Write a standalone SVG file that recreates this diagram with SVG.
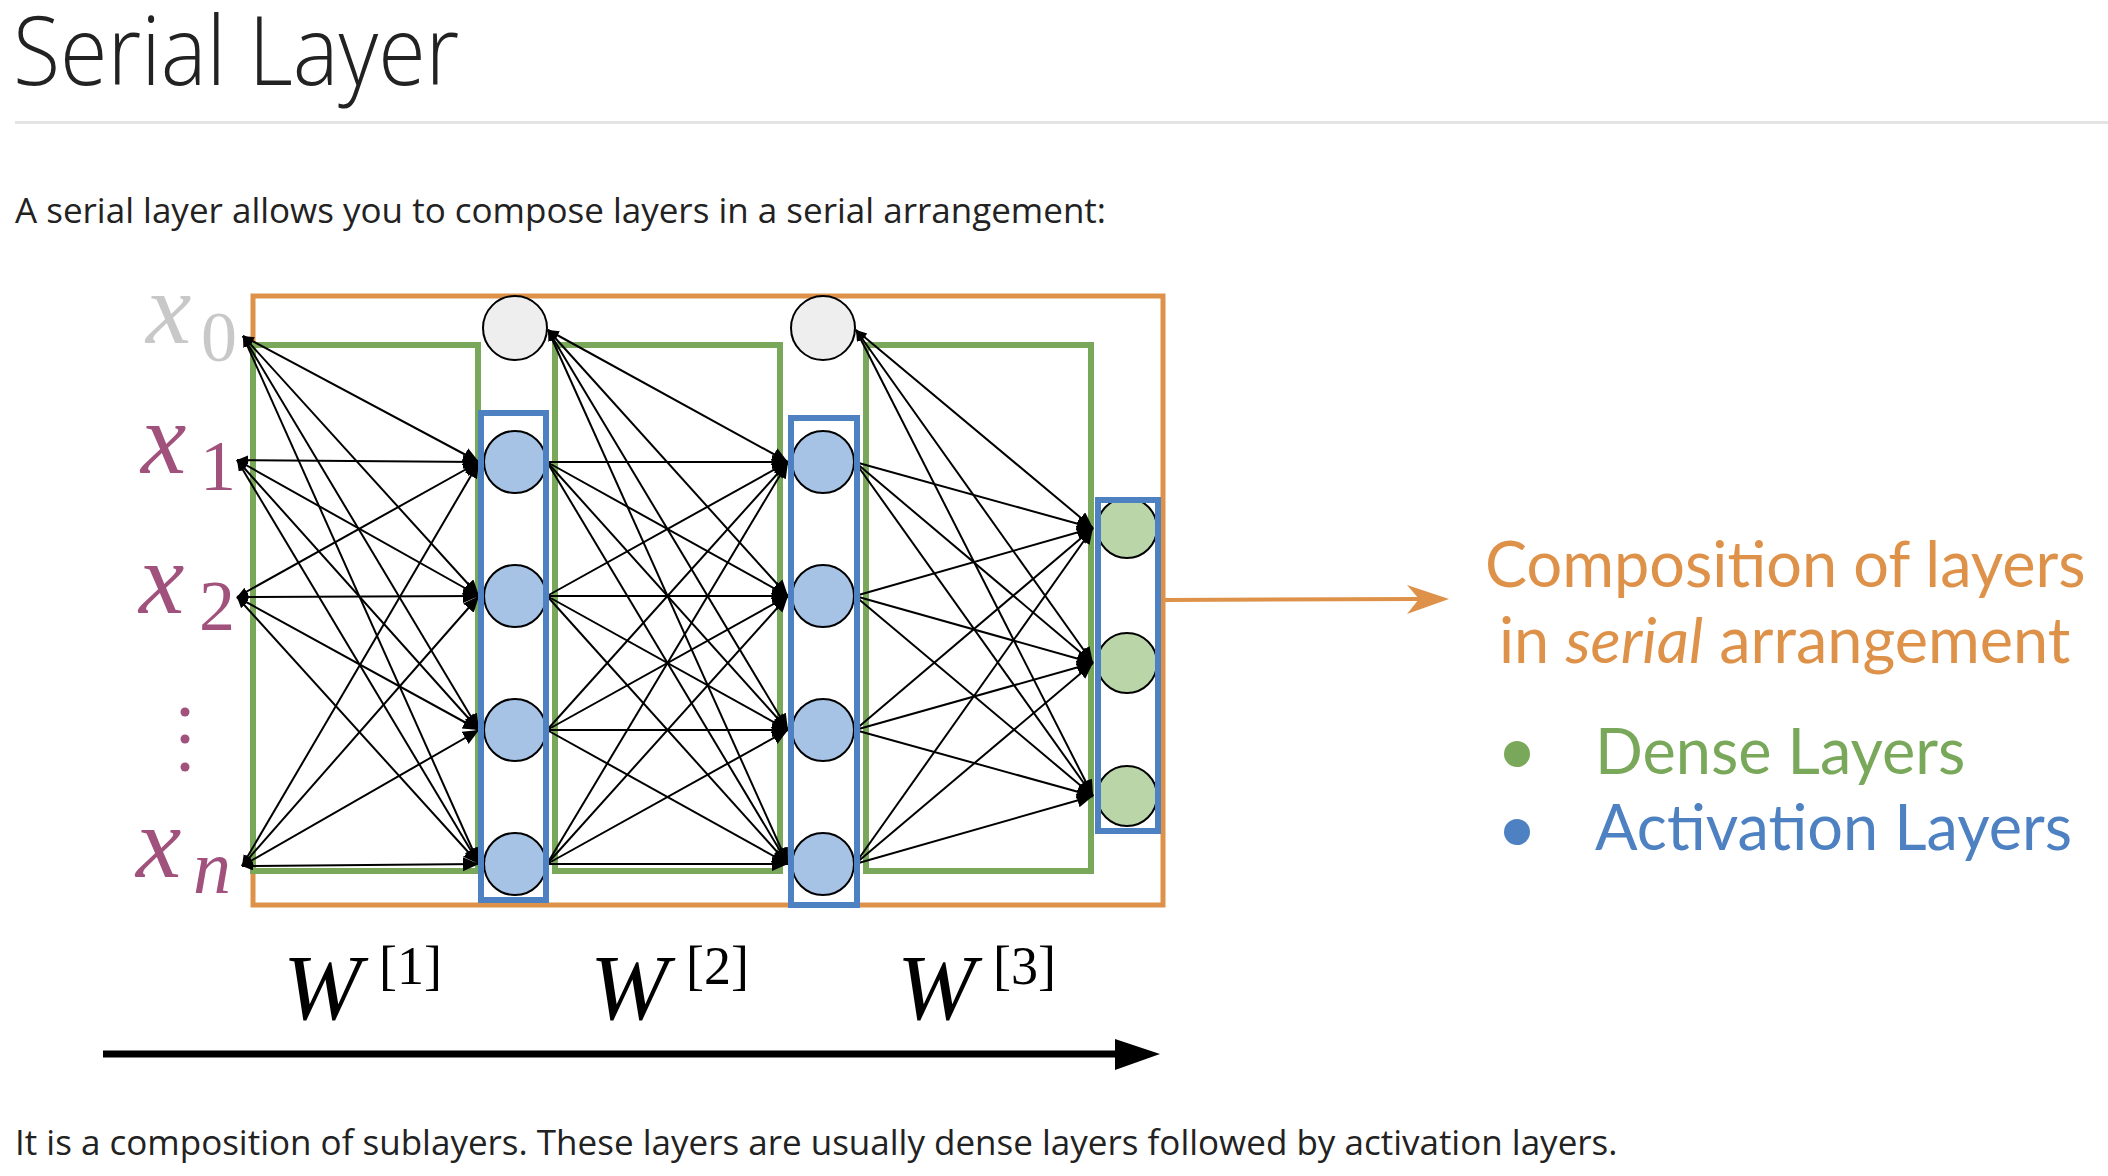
<svg xmlns="http://www.w3.org/2000/svg" width="2108" height="1176" viewBox="0 0 2108 1176">
<style>
.body{font-family:"Open Sans","Liberation Sans",sans-serif;fill:#222}
.lato{font-family:Lato,"Open Sans",sans-serif;font-size:63px}
.math{font-family:"Liberation Serif","DejaVu Serif",serif}
.xl{fill:#A0527D}
.e{stroke:#000;stroke-width:2;fill:none}
.e1{marker-end:url(#ah)}
.eb{marker-end:url(#ah);marker-start:url(#st)}
.dense{fill:none;stroke:#79A85A;stroke-width:6}
.act{fill:none;stroke:#4E81C1;stroke-width:6}
.nb{fill:#A6C3E6;stroke:#000;stroke-width:2}
.ng{fill:#BAD5A8;stroke:#000;stroke-width:2}
.nw{fill:#EEEEEE;stroke:#000;stroke-width:2}
</style>
<defs>
<marker id="ah" markerUnits="userSpaceOnUse" markerWidth="16" markerHeight="16" refX="16" refY="7" orient="auto"><path d="M0,0 L16,7 L0,14 z" fill="#000"/></marker>
<marker id="st" markerUnits="userSpaceOnUse" markerWidth="12" markerHeight="10" refX="11" refY="4.5" orient="auto-start-reverse"><path d="M0,0 L11,4.5 L0,9 z" fill="#000"/></marker>
</defs>
<rect width="2108" height="1176" fill="#fff"/>

<text class="body" transform="translate(13,85) scale(0.9,1)" font-size="96" font-weight="300">Serial Layer</text>
<rect x="15" y="121" width="2093" height="3" fill="#E4E4E4"/>
<text class="body" x="15" y="223" font-size="35">A serial layer allows you to compose layers in a serial arrangement:</text>

<g id="serial-box"><rect x="253" y="296" width="910" height="609" fill="none" stroke="#DE9249" stroke-width="5"/></g>
<g id="dense-1"><rect x="253" y="345" width="225" height="526" class="dense"/></g>
<g id="dense-2"><rect x="555" y="345" width="225" height="526" class="dense"/></g>
<g id="dense-3"><rect x="866" y="345" width="225" height="526" class="dense"/></g>

<g id="bias-1"><circle cx="515" cy="328" r="32" class="nw"/></g>
<g id="bias-2"><circle cx="823" cy="328" r="32" class="nw"/></g>

<g id="connectors">
<g id="edges-1">
<path class="e eb" d="M243,336 L479,462"/><path class="e eb" d="M243,336 L479,596"/><path class="e eb" d="M243,336 L479,730"/><path class="e eb" d="M243,336 L479,864"/>
<path class="e eb" d="M237,460 L479,462"/><path class="e eb" d="M237,460 L479,596"/><path class="e eb" d="M237,460 L479,730"/><path class="e eb" d="M237,460 L479,864"/>
<path class="e eb" d="M237,597 L479,462"/><path class="e eb" d="M237,597 L479,596"/><path class="e eb" d="M237,597 L479,730"/><path class="e eb" d="M237,597 L479,864"/>
<path class="e eb" d="M242,866 L479,462"/><path class="e eb" d="M242,866 L479,596"/><path class="e eb" d="M242,866 L479,730"/><path class="e eb" d="M242,866 L479,864"/>
</g>
<g id="edges-2">
<path class="e eb" d="M548,330 L788,462"/><path class="e eb" d="M548,330 L788,596"/><path class="e eb" d="M548,330 L788,730"/><path class="e eb" d="M548,330 L788,864"/>
<path class="e e1" d="M547,462 L788,462"/><path class="e e1" d="M547,462 L788,596"/><path class="e e1" d="M547,462 L788,730"/><path class="e e1" d="M547,462 L788,864"/>
<path class="e e1" d="M547,596 L788,462"/><path class="e e1" d="M547,596 L788,596"/><path class="e e1" d="M547,596 L788,730"/><path class="e e1" d="M547,596 L788,864"/>
<path class="e e1" d="M547,730 L788,462"/><path class="e e1" d="M547,730 L788,596"/><path class="e e1" d="M547,730 L788,730"/><path class="e e1" d="M547,730 L788,864"/>
<path class="e e1" d="M547,864 L788,462"/><path class="e e1" d="M547,864 L788,596"/><path class="e e1" d="M547,864 L788,730"/><path class="e e1" d="M547,864 L788,864"/>
</g>
<g id="edges-3">
<path class="e eb" d="M856,330 L1093,528"/><path class="e eb" d="M856,330 L1093,663"/><path class="e eb" d="M856,330 L1093,796"/>
<path class="e e1" d="M855,462 L1093,528"/><path class="e e1" d="M855,462 L1093,663"/><path class="e e1" d="M855,462 L1093,796"/>
<path class="e e1" d="M855,596 L1093,528"/><path class="e e1" d="M855,596 L1093,663"/><path class="e e1" d="M855,596 L1093,796"/>
<path class="e e1" d="M855,730 L1093,528"/><path class="e e1" d="M855,730 L1093,663"/><path class="e e1" d="M855,730 L1093,796"/>
<path class="e e1" d="M855,864 L1093,528"/><path class="e e1" d="M855,864 L1093,663"/><path class="e e1" d="M855,864 L1093,796"/>
</g>
<g id="serial-output">
<path d="M1163,600 L1420,599" stroke="#DE9249" stroke-width="4" fill="none"/>
<path d="M1449,599 L1407,585 L1419,599 L1407,614 z" fill="#DE9249"/>
</g>
<g id="flow-arrow">
<path d="M103,1054 L1120,1054" stroke="#000" stroke-width="7" fill="none"/>
<path d="M1160,1054 L1115,1039 L1115,1070 z" fill="#000"/>
</g>
</g>

<g id="act-1">
<circle cx="515" cy="462" r="31" class="nb"/><circle cx="515" cy="596" r="31" class="nb"/><circle cx="515" cy="730" r="31" class="nb"/><circle cx="515" cy="864" r="31" class="nb"/>
<rect x="481" y="413" width="65" height="487" class="act"/>
</g>
<g id="act-2">
<circle cx="823" cy="462" r="31" class="nb"/><circle cx="823" cy="596" r="31" class="nb"/><circle cx="823" cy="730" r="31" class="nb"/><circle cx="823" cy="864" r="31" class="nb"/>
<rect x="791" y="418" width="66" height="487" class="act"/>
</g>
<g id="output">
<circle cx="1127" cy="528" r="30" class="ng"/><circle cx="1127" cy="663" r="30" class="ng"/><circle cx="1127" cy="796" r="30" class="ng"/>
<rect x="1098" y="500" width="60" height="331" class="act"/>
</g>

<g id="inputs" class="math">
<g id="x0"><text x="146" y="343" font-size="102" font-style="italic" fill="#C8C8C8">x</text><text x="201" y="361" font-size="72" fill="#C8C8C8">0</text></g>
<g id="x1"><text x="141" y="473" font-size="102" font-style="italic" class="xl">x</text><text x="200" y="490" font-size="72" class="xl">1</text></g>
<g id="x2"><text x="139" y="613" font-size="102" font-style="italic" class="xl">x</text><text x="199" y="630" font-size="72" class="xl">2</text></g>
<g id="xdots" class="xl"><circle cx="185" cy="712" r="4.5"/><circle cx="185" cy="739" r="4.5"/><circle cx="185" cy="767" r="4.5"/></g>
<g id="xn"><text x="136" y="877" font-size="102" font-style="italic" class="xl">x</text><text x="193" y="893" font-size="76" font-style="italic" class="xl">n</text></g>
</g>

<g id="weights" class="math" fill="#000">
<g id="w1"><text x="283" y="1019" font-size="94" font-style="italic">W</text><text x="379" y="984" font-size="54">[1]</text></g>
<g id="w2"><text x="590" y="1019" font-size="94" font-style="italic">W</text><text x="686" y="984" font-size="54">[2]</text></g>
<g id="w3"><text x="897" y="1019" font-size="94" font-style="italic">W</text><text x="993" y="984" font-size="54">[3]</text></g>
</g>

<g id="legend">
<text class="lato" x="1485" y="587" fill="#DE9249">Composition of layers</text>
<text class="lato" x="1499" y="663" fill="#DE9249">in <tspan font-style="italic">serial</tspan> arrangement</text>
<circle cx="1517" cy="754" r="13" fill="#79A85A"/>
<text class="lato" x="1595" y="774" fill="#79A85A">Dense Layers</text>
<circle cx="1517" cy="832" r="13" fill="#4E81C1"/>
<text class="lato" x="1595" y="850" fill="#4E81C1">Activation Layers</text>
</g>

<text class="body" x="15" y="1155" font-size="35">It is a composition of sublayers. These layers are usually dense layers followed by activation layers.</text>
</svg>
